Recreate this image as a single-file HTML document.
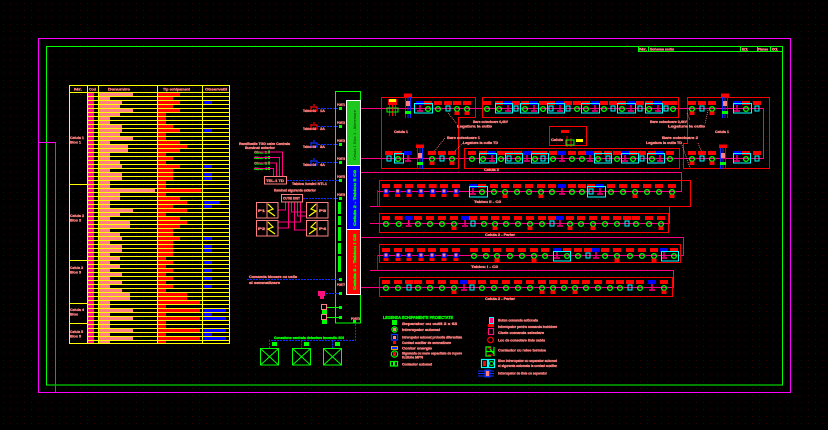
<!DOCTYPE html>
<html><head><meta charset="utf-8">
<style>
html,body{margin:0;padding:0;background:#000;}
svg{display:block}
.t{font-family:"Liberation Sans",sans-serif;font-weight:bold;fill:#ff8080;stroke:#ff8080;stroke-width:0.35px;}
.g{font-family:"Liberation Sans",sans-serif;font-weight:bold;fill:#00ff00;stroke:#00ff00;stroke-width:0.35px;}
.cy{fill:none;stroke:#00ffff;stroke-width:1}
.rr{fill:none;stroke:#ff0000;stroke-width:1}
.mg{fill:none;stroke:#ff0080;stroke-width:1}
.bd{fill:none;stroke:#1030ff;stroke-width:1;stroke-dasharray:2,1}
.pd{fill:none;stroke:#ff8080;stroke-width:0.8;stroke-dasharray:1,1}
</style></head><body>
<svg width="828" height="430" viewBox="0 0 828 430" xmlns="http://www.w3.org/2000/svg">
<defs>
<pattern id="dots" patternUnits="userSpaceOnUse" width="7" height="7"><rect x="3" y="3" width="1" height="1" fill="#3a0000"/></pattern>
<pattern id="yl" patternUnits="userSpaceOnUse" x="0" y="92" width="10" height="4"><rect x="0" y="0" width="10" height="1" fill="#ffff00"/></pattern>
<pattern id="pMag" patternUnits="userSpaceOnUse" x="0" y="93" width="4" height="4"><rect width="4" height="3" fill="#ff1080"/></pattern>
<pattern id="pPink" patternUnits="userSpaceOnUse" x="0" y="93" width="4" height="4"><rect width="4" height="3" fill="#ff8080"/></pattern>
<pattern id="pRed" patternUnits="userSpaceOnUse" x="0" y="93" width="4" height="4"><rect width="4" height="3" fill="#ff0000"/></pattern>
<g id="u1"><rect x="-4" y="0" width="8" height="4" fill="#f00"/><circle cx="0" cy="8" r="2.4" fill="none" stroke="#0f0" stroke-width="1.3"/></g>
<g id="u2"><rect x="-4" y="0" width="8" height="4" fill="#f00"/><circle cx="0" cy="8" r="2.4" fill="none" stroke="#0f0" stroke-width="1.3"/><rect x="-2.5" y="10.5" width="5" height="3.5" fill="#f00"/></g>
<g id="u3"><rect x="-4" y="0" width="8" height="4" fill="#f00"/><circle cx="0" cy="7.5" r="3" fill="#0000ff"/><rect x="-1.5" y="5.5" width="3" height="3" fill="#ff8080"/><rect x="-2.5" y="10" width="5" height="3" fill="#f00"/></g>
<g id="u4"><rect x="-4" y="0" width="8" height="4" fill="#0000ff"/><path d="M0,4V9M-3,10H3" stroke="#ff0080" stroke-width="1.4" fill="none"/></g>
<g id="u5"><rect x="-4" y="0" width="8" height="4" fill="#f00"/><rect x="-2" y="5" width="4" height="5" fill="none" stroke="#0ff" stroke-width="1"/></g>
</defs>
<rect width="828" height="430" fill="#000"/>
<rect width="828" height="430" fill="url(#dots)"/>

<!-- frames -->
<rect x="38.5" y="38.5" width="752" height="354" fill="none" stroke="#ff00ff" stroke-width="1"/>
<rect x="46.5" y="46.5" width="736" height="338.5" fill="none" stroke="#00ff00" stroke-width="1"/>
<path d="M38,142.5H55.5V392" fill="none" stroke="#ff00ff" stroke-width="1"/>

<!-- title block -->
<rect x="638.5" y="46.5" width="144" height="5" fill="none" stroke="#00ff00"/>
<path d="M648.5,46.5V51.5M740.5,46.5V51.5M757.5,46.5V51.5M770.5,46.5V51.5" stroke="#00ff00"/>
<text class="t" x="639" y="50.5" font-size="3.5" textLength="8" lengthAdjust="spacingAndGlyphs">Nr.</text>
<text class="t" x="650" y="50.5" font-size="3.5" textLength="14" lengthAdjust="spacingAndGlyphs">Schema</text>
<text class="t" x="665" y="50.5" font-size="3.5" textLength="9" lengthAdjust="spacingAndGlyphs">monofilara</text>
<text class="t" x="742" y="50.5" font-size="3.5" textLength="6" lengthAdjust="spacingAndGlyphs">E1</text>
<text class="t" x="758" y="50.5" font-size="3.5" textLength="10" lengthAdjust="spacingAndGlyphs">Plansa</text>
<text class="t" x="772" y="50.5" font-size="3.5" textLength="6" lengthAdjust="spacingAndGlyphs">01</text>

<!-- ================= TABLE ================= -->
<rect x="88" y="93" width="6" height="251" fill="url(#pMag)"/>
<rect x="99" y="93" width="11" height="251" fill="url(#pPink)"/>
<rect x="158" y="93" width="8" height="251" fill="url(#pRed)"/>
<g fill="#ff8080">
<rect x="110" y="93" width="23" height="3"/><rect x="110" y="101" width="12" height="3"/><rect x="110" y="105" width="10" height="3"/><rect x="110" y="109" width="23" height="3"/><rect x="110" y="113" width="10" height="3"/><rect x="110" y="125" width="12" height="3"/><rect x="110" y="129" width="12" height="3"/><rect x="110" y="133" width="10" height="3"/><rect x="110" y="137" width="23" height="3"/><rect x="110" y="145" width="18" height="3"/><rect x="110" y="149" width="18" height="3"/><rect x="110" y="161" width="10" height="3"/><rect x="110" y="165" width="12" height="3"/><rect x="110" y="173" width="12" height="3"/><rect x="110" y="177" width="12" height="3"/><rect x="110" y="189" width="45" height="3"/><rect x="110" y="193" width="10" height="3"/><rect x="110" y="197" width="10" height="3"/><rect x="110" y="209" width="23" height="3"/><rect x="110" y="213" width="10" height="3"/><rect x="110" y="221" width="20" height="3"/><rect x="110" y="225" width="20" height="3"/><rect x="110" y="233" width="10" height="3"/><rect x="110" y="237" width="12" height="3"/><rect x="110" y="245" width="12" height="3"/><rect x="110" y="249" width="12" height="3"/><rect x="110" y="257" width="10" height="3"/><rect x="110" y="265" width="10" height="3"/><rect x="110" y="273" width="12" height="3"/><rect x="110" y="281" width="12" height="3"/><rect x="110" y="289" width="12" height="3"/><rect x="110" y="293" width="20" height="3"/><rect x="110" y="297" width="20" height="3"/><rect x="110" y="309" width="23" height="3"/><rect x="110" y="317" width="23" height="3"/><rect x="110" y="329" width="23" height="3"/><rect x="110" y="337" width="23" height="3"/>
</g>
<g fill="#ff0000">
<rect x="166" y="93" width="14" height="3"/><rect x="166" y="97" width="7" height="3"/><rect x="166" y="101" width="14" height="3"/><rect x="166" y="105" width="7" height="3"/><rect x="166" y="109" width="14" height="3"/><rect x="166" y="125" width="7" height="3"/><rect x="166" y="129" width="14" height="3"/><rect x="166" y="141" width="14" height="3"/><rect x="166" y="145" width="21" height="3"/><rect x="166" y="149" width="14" height="3"/><rect x="166" y="157" width="7" height="3"/><rect x="166" y="165" width="14" height="3"/><rect x="166" y="169" width="7" height="3"/><rect x="166" y="173" width="7" height="3"/><rect x="166" y="177" width="7" height="3"/><rect x="166" y="189" width="35" height="3"/><rect x="166" y="197" width="14" height="3"/><rect x="166" y="201" width="21" height="3"/><rect x="166" y="205" width="7" height="3"/><rect x="166" y="209" width="21" height="3"/><rect x="166" y="217" width="14" height="3"/><rect x="166" y="221" width="21" height="3"/><rect x="166" y="225" width="14" height="3"/><rect x="166" y="229" width="7" height="3"/><rect x="166" y="233" width="7" height="3"/><rect x="166" y="237" width="14" height="3"/><rect x="166" y="241" width="7" height="3"/><rect x="166" y="245" width="7" height="3"/><rect x="166" y="249" width="7" height="3"/><rect x="166" y="253" width="7" height="3"/><rect x="166" y="261" width="7" height="3"/><rect x="166" y="269" width="7" height="3"/><rect x="166" y="277" width="7" height="3"/><rect x="166" y="285" width="7" height="3"/><rect x="166" y="293" width="21" height="3"/><rect x="166" y="297" width="21" height="3"/><rect x="166" y="301" width="34" height="3"/><rect x="166" y="309" width="34" height="3"/><rect x="166" y="317" width="34" height="3"/><rect x="166" y="329" width="34" height="3"/><rect x="166" y="337" width="34" height="3"/>
</g>
<g fill="#0000ff">
<rect x="203" y="101" width="9" height="3"/><rect x="203" y="129" width="9" height="3"/><rect x="203" y="165" width="9" height="3"/><rect x="203" y="173" width="9" height="3"/><rect x="203" y="177" width="9" height="3"/><rect x="203" y="201" width="16" height="3"/><rect x="203" y="205" width="9" height="3"/><rect x="203" y="237" width="9" height="3"/><rect x="203" y="245" width="9" height="3"/><rect x="203" y="249" width="9" height="3"/><rect x="203" y="261" width="9" height="3"/><rect x="203" y="269" width="9" height="3"/><rect x="203" y="277" width="9" height="3"/><rect x="203" y="285" width="9" height="3"/><rect x="203" y="309" width="23" height="3"/><rect x="203" y="313" width="9" height="3"/><rect x="203" y="317" width="23" height="3"/><rect x="203" y="329" width="23" height="3"/><rect x="203" y="333" width="9" height="3"/><rect x="203" y="337" width="23" height="3"/>
</g>
<rect x="87" y="92" width="142" height="252" fill="url(#yl)"/>
<g stroke="#ffff00" stroke-width="1" fill="none">
<rect x="69.5" y="85.5" width="160" height="258"/>
<path d="M69.5,92.5H229.5M87.5,85.5V343.5M98.5,85.5V343.5M157.5,85.5V343.5M202.5,85.5V343.5M69.5,184.5H87.5M69.5,260.5H87.5M69.5,303.5H87.5M69.5,323.5H87.5"/>
</g>
<text class="t" x="74" y="90.5" font-size="4" textLength="8" lengthAdjust="spacingAndGlyphs">Nr.</text>
<text class="t" x="89" y="90.5" font-size="4" textLength="7" lengthAdjust="spacingAndGlyphs">Cod</text>
<text class="t" x="108" y="90.5" font-size="4" textLength="22" lengthAdjust="spacingAndGlyphs">Denumire</text>
<text class="t" x="163" y="90.5" font-size="4" textLength="27" lengthAdjust="spacingAndGlyphs">Tip echipament</text>
<text class="t" x="205" y="90.5" font-size="4" textLength="22" lengthAdjust="spacingAndGlyphs">Observatii</text>
<text class="t" x="70" y="139" font-size="4" textLength="14" lengthAdjust="spacingAndGlyphs">Celula 1</text>
<text class="t" x="70" y="143.5" font-size="4" textLength="11" lengthAdjust="spacingAndGlyphs">Bloc 1</text>
<text class="t" x="70" y="217" font-size="4" textLength="14" lengthAdjust="spacingAndGlyphs">Celula 2</text>
<text class="t" x="70" y="221.5" font-size="4" textLength="11" lengthAdjust="spacingAndGlyphs">Bloc 2</text>
<text class="t" x="70" y="269" font-size="4" textLength="13" lengthAdjust="spacingAndGlyphs">Celula 3</text>
<text class="t" x="70" y="273.5" font-size="4" textLength="11" lengthAdjust="spacingAndGlyphs">Bloc 3</text>
<text class="t" x="70" y="311" font-size="4" textLength="14" lengthAdjust="spacingAndGlyphs">Celula 4</text>
<text class="t" x="70" y="315.5" font-size="4" textLength="8" lengthAdjust="spacingAndGlyphs">Bloc</text>
<text class="t" x="70" y="333" font-size="4" textLength="13" lengthAdjust="spacingAndGlyphs">Celula 5</text>
<text class="t" x="70" y="337.5" font-size="4" textLength="11" lengthAdjust="spacingAndGlyphs">Bloc 5</text>

<!-- ================= MIDDLE ================= -->
<rect x="335.5" y="91.5" width="25" height="231.5" fill="none" stroke="#00ff00"/>
<rect x="347" y="101" width="13" height="64.5" fill="#1ec81e"/>
<rect x="347" y="165.5" width="13" height="64" fill="#0000ff"/>
<rect x="347" y="229.5" width="13" height="64.5" fill="#ff0000"/>
<rect x="346.5" y="100.5" width="14" height="194" fill="none" stroke="#ffffff"/>
<path d="M346.5,165.5H360.5M346.5,229.5H360.5" stroke="#ffffff"/>
<text transform="translate(356,160) rotate(-90)" font-family="Liberation Sans,sans-serif" font-size="4" fill="#004000" textLength="50" lengthAdjust="spacingAndGlyphs">Celula 1 Bloc 1 - Alimentare</text>
<text class="g" transform="translate(356,226) rotate(-90)" font-size="4" textLength="56" lengthAdjust="spacingAndGlyphs">Celula 2 - Tablou  II   C0</text>
<text class="g" transform="translate(356,290) rotate(-90)" font-size="4" textLength="56" lengthAdjust="spacingAndGlyphs">Celula 3 - Tablou  I   C0</text>
<!-- left labels of column -->
<g class="t" font-size="3.5">
<text x="337" y="106" textLength="8" lengthAdjust="spacingAndGlyphs">PORT1</text>
<text x="337" y="124" textLength="8" lengthAdjust="spacingAndGlyphs">PORT2</text>
<text x="337" y="142" textLength="8" lengthAdjust="spacingAndGlyphs">PORT3</text>
<text x="337" y="160" textLength="8" lengthAdjust="spacingAndGlyphs">PORT4</text>
<text x="337" y="178" textLength="8" lengthAdjust="spacingAndGlyphs">PORT5</text>
<text x="337" y="196" textLength="8" lengthAdjust="spacingAndGlyphs">PORT6</text>
<text x="337" y="286" textLength="8" lengthAdjust="spacingAndGlyphs">PORT7</text>
<text x="351" y="320" textLength="9" lengthAdjust="spacingAndGlyphs">PORT8</text>
</g>
<g fill="#00ff00">
<rect x="339" y="107" width="3" height="3"/><rect x="339" y="125" width="3" height="3"/><rect x="339" y="143" width="3" height="3"/><rect x="339" y="161" width="3" height="3"/><rect x="339" y="179" width="3" height="3"/><rect x="339" y="197" width="3" height="3"/><rect x="339" y="278" width="3" height="3"/><rect x="339" y="292" width="3" height="3"/><rect x="339" y="306" width="3" height="3"/><rect x="339" y="316" width="3" height="3"/>
<rect x="338" y="202" width="3" height="12"/><rect x="338" y="216" width="3" height="9"/><rect x="338" y="227" width="3" height="14"/><rect x="338" y="243" width="3" height="11"/><rect x="338" y="256" width="3" height="16"/>
</g>
<!-- magenta lines to right -->
<g class="mg">
<path d="M361,108.5H763.5V158.5H361"/>
<path d="M361,172.5H681.5V191.5H377"/>
<path d="M370,206.5H669.5V223.5H370"/>
<path d="M361,237.5H683.5V255.5H377"/>
<path d="M370,270.5H673.5V287.5H361"/>
</g>
<path d="M377.5,190V206M377.5,255V270" stroke="#1030ff" fill="none"/>

<!-- breaker symbols left -->
<g class="bd">
<path d="M318,108.5H339M318,126.5H339M318,144.5H339M318,162.5H339M287,180.5H339M303,198.5H339M247,279.5H339M326,293.5H339"/>
<path d="M355.5,321V340.5H269.5V348M301.5,340.5V348M332.5,340.5V348"/>
</g>
<g fill="none" stroke-width="1.2">
<path d="M311,106V111H317V107H311M314,104V106" stroke="#ff0000"/>
<path d="M311,124V129H317V125H311M314,122V124" stroke="#ff0000"/>
<path d="M311,142V147H317V143H311M314,140V142" stroke="#1030ff"/>
<path d="M311,160V165H317V161H311M314,158V160" stroke="#1030ff"/>
</g>
<g class="t" font-size="3.5">
<text x="303" y="112" textLength="13" lengthAdjust="spacingAndGlyphs">Tablou G1</text><text x="320" y="112" textLength="5" lengthAdjust="spacingAndGlyphs">1A</text>
<text x="303" y="130" textLength="13" lengthAdjust="spacingAndGlyphs">Tablou G2</text><text x="320" y="130" textLength="5" lengthAdjust="spacingAndGlyphs">2A</text>
<text x="303" y="148" textLength="13" lengthAdjust="spacingAndGlyphs">Tablou G3</text><text x="320" y="148" textLength="5" lengthAdjust="spacingAndGlyphs">3A</text>
<text x="303" y="166" textLength="13" lengthAdjust="spacingAndGlyphs">Tablou G4</text><text x="320" y="166" textLength="5" lengthAdjust="spacingAndGlyphs">4A</text>
<text x="239" y="145" textLength="51" lengthAdjust="spacingAndGlyphs">Ramificatie TGD catre Centrala</text>
<text x="245" y="149" textLength="30" lengthAdjust="spacingAndGlyphs">iluminat exterior</text>
<text x="292" y="185" textLength="35" lengthAdjust="spacingAndGlyphs">Tablou lumini NTL1</text>
<text x="274" y="191.5" textLength="42" lengthAdjust="spacingAndGlyphs">Iluminat siguranta exterior</text>
<text x="249" y="278" textLength="48" lengthAdjust="spacingAndGlyphs">Comanda blocare cu usile</text>
<text x="249" y="284" textLength="31" lengthAdjust="spacingAndGlyphs">si semnalizare</text>
</g>
<g class="g" font-size="3.5">
<text x="254" y="153.5" textLength="13" lengthAdjust="spacingAndGlyphs">Circ. 1</text>
<text x="254" y="159" textLength="13" lengthAdjust="spacingAndGlyphs">Circ. 2</text>
<text x="254" y="164.5" textLength="13" lengthAdjust="spacingAndGlyphs">Circ. 3</text>
<text x="254" y="170" textLength="13" lengthAdjust="spacingAndGlyphs">Circ. 4</text>
</g>
<g fill="#00ff00"><rect x="268" y="150.5" width="2" height="3"/><rect x="268" y="156" width="2" height="3"/><rect x="268" y="161.5" width="2" height="3"/><rect x="268" y="167" width="2" height="3"/></g>
<g class="mg">
<path d="M254,152H282.5V176M254,157.5H279.5V176M254,163H276.5V176M254,168.5H273.5V176"/>
<path d="M285.5,202V210H278M288.5,202V228H278M291.5,202V212H306M294.5,202V230H306M297.5,202V216H306M300.5,202V222H278"/>
</g>
<rect x="264.5" y="176.5" width="22" height="7.5" fill="none" stroke="#ff8080"/>
<text class="t" x="266" y="182" font-size="3.5" textLength="18" lengthAdjust="spacingAndGlyphs">TEL-1 TD</text>
<rect x="281.5" y="194.5" width="21" height="7.5" fill="none" stroke="#ff8080"/>
<text class="t" x="283" y="199.5" font-size="3.5" textLength="17" lengthAdjust="spacingAndGlyphs">CUTIE DIST</text>
<!-- 4 boxes -->
<g fill="none" stroke="#ff8080">
<rect x="256.5" y="202.5" width="21.5" height="15.5"/><path d="M267,202.5V218"/>
<rect x="306.5" y="202.5" width="21.5" height="15.5"/><path d="M317,202.5V218"/>
<rect x="256.5" y="220.5" width="21.5" height="15.5"/><path d="M267,220.5V236"/>
<rect x="306.5" y="220.5" width="21.5" height="15.5"/><path d="M317,220.5V236"/>
</g>
<g fill="none" stroke="#ffff00" stroke-width="1.2">
<path d="M268,204L273,209L268,211L275,216"/><path d="M268,222L273,227L268,229L275,234"/>
<path d="M316,204L311,209L316,211L309,216"/><path d="M316,222L311,227L316,229L309,234"/>
</g>
<g class="t" font-size="3.5">
<text x="258" y="212" textLength="7" lengthAdjust="spacingAndGlyphs">P1</text>
<text x="258" y="230" textLength="7" lengthAdjust="spacingAndGlyphs">P2</text>
<text x="319" y="212" textLength="7" lengthAdjust="spacingAndGlyphs">P3</text>
<text x="319" y="230" textLength="7" lengthAdjust="spacingAndGlyphs">P4</text>
</g>
<!-- bottom middle -->
<rect x="318" y="291" width="7" height="5" fill="#ff1080"/><rect x="320" y="296" width="4" height="3" fill="#ff1080"/>
<rect x="321.5" y="304.5" width="5" height="5" fill="none" stroke="#ff8080"/><rect x="322" y="310" width="5" height="4" fill="#00ff00"/>
<rect x="321.5" y="314.5" width="5" height="5" fill="none" stroke="#ff8080"/><rect x="322" y="320" width="5" height="4" fill="#00ff00"/>
<path d="M327,307.5H340M327,317.5H340" stroke="#00ff00"/>
<rect x="353" y="320" width="3" height="3" fill="#00ff00"/>
<text class="g" x="274" y="339" font-size="3.5" textLength="70" lengthAdjust="spacingAndGlyphs">Conexiune centrala detectare incendiu SDI</text>
<g fill="none" stroke="#00ff00">
<rect x="260.5" y="348.5" width="18" height="16.5"/><path d="M260.5,348.5L278.5,365M278.5,348.5L260.5,365"/>
<rect x="292.5" y="348.5" width="18" height="16.5"/><path d="M292.5,348.5L310.5,365M310.5,348.5L292.5,365"/>
<rect x="323.5" y="348.5" width="18" height="16.5"/><path d="M323.5,348.5L341.5,365M341.5,348.5L323.5,365"/>
</g>
<g fill="#00ff00"><rect x="272" y="342" width="5" height="4"/><rect x="304" y="342" width="5" height="4"/><rect x="335" y="342" width="5" height="4"/></g>

<!-- ================= RIGHT: RED FRAMES ================= -->
<g class="rr">
<path d="M381.5,97.5H475.5V117.5H458.5V168.5H381.5Z"/>
<rect x="482.5" y="97.5" width="196" height="20"/>
<rect x="464.5" y="148.5" width="215" height="20"/>
<path d="M769.5,97.5H687.5V143.5H683.5V168.5H769.5Z"/>
<rect x="549.5" y="126.5" width="37" height="19"/>
<rect x="379.5" y="180.5" width="311" height="26"/>
<rect x="379.5" y="213.5" width="289" height="19"/>
<rect x="379.5" y="244.5" width="301" height="18"/>
<rect x="379.5" y="277.5" width="293" height="19"/>
</g>
<!-- annotations -->
<g class="pd">
<path d="M448,113L457,124M445,138L433,153M463,143L453,153M708,110L705,124M687,113L690,120M698,143L705,160M682,145L690,168"/>
</g>
<g class="t" font-size="3.6">
<text x="473" y="123" textLength="35" lengthAdjust="spacingAndGlyphs">Bare colectoare 0,4kV</text>
<text x="457" y="127.5" textLength="35" lengthAdjust="spacingAndGlyphs">Legatura la cutie</text>
<text x="447" y="139" textLength="33" lengthAdjust="spacingAndGlyphs">Bare colectoare 1</text>
<text x="463" y="144" textLength="35" lengthAdjust="spacingAndGlyphs">Legatura la cutia TD</text>
<text x="650" y="123" textLength="37" lengthAdjust="spacingAndGlyphs">Bare colectoare 0,4kV</text>
<text x="668" y="127.5" textLength="37" lengthAdjust="spacingAndGlyphs">Legatura la cutie</text>
<text x="662" y="139" textLength="36" lengthAdjust="spacingAndGlyphs">Bare colectoare 2</text>
<text x="646" y="144" textLength="36" lengthAdjust="spacingAndGlyphs">Legatura la cutia TD</text>
<text x="394" y="133" textLength="14" lengthAdjust="spacingAndGlyphs">Celula 1</text>
<text x="715" y="133" textLength="14" lengthAdjust="spacingAndGlyphs">Celula 1</text>
<text x="484" y="171" textLength="15" lengthAdjust="spacingAndGlyphs">Celula 2</text>
<text x="551" y="141" textLength="12" lengthAdjust="spacingAndGlyphs">Celula</text>
<text x="474" y="203" textLength="27" lengthAdjust="spacingAndGlyphs">Tablou II - C0</text>
<text x="485" y="236" textLength="30" lengthAdjust="spacingAndGlyphs">Celula 2 - Parter</text>
<text x="471" y="268" textLength="27" lengthAdjust="spacingAndGlyphs">Tablou I - C0</text>
<text x="485" y="300" textLength="30" lengthAdjust="spacingAndGlyphs">Celula 2 - Parter</text>
</g>
<rect x="561" y="130" width="8" height="3" fill="#f00"/>
<path d="M567,136V147M571,138V147" stroke="#f00"/>
<rect x="566" y="140" width="8" height="5" fill="none" stroke="#0f0"/>
<rect x="576" y="139" width="7" height="3" fill="#ff0"/>

<!-- special symbols row A/B -->
<rect x="388" y="99" width="9" height="6" fill="#f00"/><rect x="389" y="99" width="7" height="3" fill="#ff0"/>
<path d="M389.5,105V116M392.5,105V116M395.5,105V116" stroke="#f00"/>
<rect x="387" y="108" width="11" height="4" fill="none" stroke="#0f0"/>
<rect x="404" y="93.5" width="8" height="3.5" fill="#f00"/>
<path d="M405.5,97V118M408,97V118M410.5,97V118" stroke="#1030ff"/>
<rect x="406" y="101" width="4" height="5" fill="#ff8080"/><rect x="405" y="111" width="6" height="3" fill="#0f0"/>
<rect x="416" y="144.5" width="8" height="3.5" fill="#f00"/>
<path d="M417.5,148V169M420,148V169M422.5,148V169" stroke="#1030ff"/>
<rect x="418" y="153" width="4" height="5" fill="#ff8080"/><rect x="417" y="162" width="6" height="3" fill="#0f0"/>
<rect x="721" y="93.5" width="8" height="3.5" fill="#f00"/>
<path d="M722.5,97V118M725,97V118M727.5,97V118" stroke="#1030ff"/>
<rect x="723" y="101" width="4" height="5" fill="#ff8080"/><rect x="722" y="111" width="6" height="3" fill="#0f0"/>
<rect x="719" y="144.5" width="8" height="3.5" fill="#f00"/>
<path d="M720.5,148V169M723,148V169M725.5,148V169" stroke="#1030ff"/>
<rect x="721" y="153" width="4" height="5" fill="#ff8080"/><rect x="720" y="162" width="6" height="3" fill="#0f0"/>

<!-- row A units (y=101) -->
<use href="#u4" x="420" y="101"/><use href="#u1" x="428" y="101"/><use href="#u1" x="438" y="101"/><use href="#u5" x="448" y="101"/><use href="#u2" x="457" y="101"/><use href="#u2" x="467" y="101"/>
<use href="#u1" x="487" y="101"/><use href="#u1" x="499" y="101"/><use href="#u4" x="508" y="101"/><use href="#u5" x="516" y="101"/><use href="#u1" x="525" y="101"/><use href="#u4" x="534" y="101"/><use href="#u1" x="543" y="101"/><use href="#u5" x="551" y="101"/><use href="#u4" x="560" y="101"/><use href="#u5" x="568" y="101"/><use href="#u1" x="577" y="101"/><use href="#u1" x="586" y="101"/><use href="#u4" x="595" y="101"/><use href="#u1" x="604" y="101"/><use href="#u5" x="613" y="101"/><use href="#u1" x="622" y="101"/><use href="#u4" x="631" y="101"/><use href="#u5" x="640" y="101"/><use href="#u1" x="649" y="101"/><use href="#u4" x="658" y="101"/><use href="#u5" x="666" y="101"/><use href="#u1" x="673" y="101"/>
<use href="#u2" x="692" y="101"/><use href="#u5" x="702" y="101"/><use href="#u2" x="712" y="101"/><use href="#u4" x="737" y="101"/><use href="#u1" x="746" y="101"/><use href="#u5" x="757" y="101"/>
<g class="cy"><rect x="414.5" y="103.5" width="18" height="9.5"/><rect x="495.5" y="103.5" width="17" height="9.5"/><rect x="520.5" y="103.5" width="18" height="9.5"/><rect x="547.5" y="103.5" width="17" height="9.5"/><rect x="581.5" y="103.5" width="18" height="9.5"/><rect x="617.5" y="103.5" width="18" height="9.5"/><rect x="645.5" y="103.5" width="17" height="9.5"/><rect x="733.5" y="103.5" width="18" height="9.5"/></g>

<!-- row B units (y=151) -->
<use href="#u5" x="389" y="151"/><use href="#u1" x="398" y="151"/><use href="#u4" x="408" y="151"/><use href="#u2" x="432" y="151"/><use href="#u5" x="442" y="151"/><use href="#u2" x="452" y="151"/>
<use href="#u1" x="472" y="151"/><use href="#u1" x="483" y="151"/><use href="#u4" x="492" y="151"/><use href="#u1" x="501" y="151"/><use href="#u5" x="509" y="151"/><use href="#u1" x="518" y="151"/><use href="#u4" x="527" y="151"/><use href="#u1" x="535" y="151"/><use href="#u5" x="543" y="151"/><use href="#u1" x="553" y="151"/><use href="#u4" x="562" y="151"/><use href="#u1" x="572" y="151"/><use href="#u1" x="582" y="151"/><use href="#u4" x="590" y="151"/><use href="#u1" x="598" y="151"/><use href="#u5" x="608" y="151"/><use href="#u1" x="617" y="151"/><use href="#u4" x="625" y="151"/><use href="#u1" x="633" y="151"/><use href="#u5" x="642" y="151"/><use href="#u1" x="652" y="151"/><use href="#u4" x="660" y="151"/><use href="#u1" x="670" y="151"/>
<use href="#u2" x="692" y="151"/><use href="#u5" x="702" y="151"/><use href="#u2" x="712" y="151"/><use href="#u4" x="737" y="151"/><use href="#u1" x="746" y="151"/><use href="#u5" x="757" y="151"/>
<g class="cy"><rect x="394.5" y="153.5" width="9" height="9.5"/><rect x="479.5" y="153.5" width="17" height="9.5"/><rect x="505.5" y="153.5" width="17" height="9.5"/><rect x="531.5" y="153.5" width="17" height="9.5"/><rect x="594.5" y="153.5" width="17" height="9.5"/><rect x="621.5" y="153.5" width="17" height="9.5"/><rect x="647.5" y="153.5" width="17" height="9.5"/><rect x="733.5" y="153.5" width="17" height="9.5"/></g>

<!-- row C (y=184) -->
<use href="#u3" x="386" y="184"/><use href="#u3" x="397.7" y="184"/><use href="#u3" x="409" y="184"/><use href="#u3" x="421" y="184"/><use href="#u3" x="432.7" y="184"/><use href="#u3" x="444" y="184"/><use href="#u3" x="456" y="184"/>
<use href="#u4" x="473" y="184"/><use href="#u1" x="482" y="184"/><use href="#u1" x="494" y="184"/><use href="#u2" x="505" y="184"/><use href="#u1" x="517" y="184"/><use href="#u1" x="529" y="184"/><use href="#u2" x="541" y="184"/><use href="#u1" x="552" y="184"/><use href="#u4" x="562" y="184"/><use href="#u1" x="572" y="184"/><use href="#u1" x="582" y="184"/><use href="#u5" x="591" y="184"/><use href="#u4" x="600" y="184"/><use href="#u1" x="611" y="184"/><use href="#u1" x="623" y="184"/><use href="#u2" x="635" y="184"/><use href="#u1" x="647" y="184"/><use href="#u1" x="659" y="184"/><use href="#u2" x="672" y="184"/>
<g class="cy"><rect x="469.5" y="186.5" width="18" height="10.5"/><rect x="587.5" y="186.5" width="18" height="10.5"/></g>

<!-- row D (y=216) -->
<use href="#u1" x="386" y="216"/><use href="#u1" x="398.7" y="216"/><use href="#u4" x="408.7" y="216"/><use href="#u1" x="418" y="216"/><use href="#u1" x="430" y="216"/><use href="#u1" x="442" y="216"/><use href="#u2" x="454" y="216"/><use href="#u4" x="465" y="216"/><use href="#u5" x="473" y="216"/><use href="#u1" x="484" y="216"/><use href="#u2" x="495" y="216"/><use href="#u1" x="506" y="216"/><use href="#u1" x="518" y="216"/><use href="#u2" x="530" y="216"/><use href="#u1" x="542" y="216"/><use href="#u5" x="552" y="216"/><use href="#u4" x="560" y="216"/><use href="#u2" x="570" y="216"/><use href="#u1" x="581" y="216"/><use href="#u2" x="593" y="216"/><use href="#u1" x="605" y="216"/><use href="#u1" x="617" y="216"/><use href="#u5" x="627" y="216"/><use href="#u1" x="636" y="216"/><use href="#u1" x="649" y="216"/><use href="#u2" x="661" y="216"/>

<!-- row E (y=248) -->
<use href="#u3" x="386" y="248"/><use href="#u3" x="398" y="248"/><use href="#u3" x="409" y="248"/><use href="#u3" x="421" y="248"/><use href="#u3" x="432" y="248"/><use href="#u3" x="444" y="248"/><use href="#u3" x="456" y="248"/>
<use href="#u1" x="474" y="248"/><use href="#u1" x="486" y="248"/><use href="#u2" x="497" y="248"/><use href="#u1" x="510" y="248"/><use href="#u1" x="522" y="248"/><use href="#u2" x="534" y="248"/><use href="#u1" x="545" y="248"/><use href="#u4" x="557" y="248"/><use href="#u1" x="567" y="248"/><use href="#u1" x="578" y="248"/><use href="#u5" x="588" y="248"/><use href="#u4" x="596" y="248"/><use href="#u1" x="605" y="248"/><use href="#u2" x="617" y="248"/><use href="#u1" x="630" y="248"/><use href="#u1" x="642" y="248"/><use href="#u2" x="654" y="248"/><use href="#u4" x="664" y="248"/><use href="#u1" x="674" y="248"/>
<g class="cy"><rect x="553.5" y="251.5" width="17" height="9.5"/><rect x="661.5" y="251.5" width="17" height="9.5"/></g>

<!-- row F (y=280) -->
<use href="#u1" x="386" y="280"/><use href="#u1" x="398" y="280"/><use href="#u5" x="409" y="280"/><use href="#u1" x="418" y="280"/><use href="#u1" x="430" y="280"/><use href="#u1" x="442" y="280"/><use href="#u2" x="454" y="280"/><use href="#u4" x="464" y="280"/><use href="#u5" x="472" y="280"/><use href="#u1" x="482" y="280"/><use href="#u1" x="494" y="280"/><use href="#u1" x="506" y="280"/><use href="#u1" x="518" y="280"/><use href="#u1" x="530" y="280"/><use href="#u2" x="542" y="280"/><use href="#u2" x="553" y="280"/><use href="#u1" x="564" y="280"/><use href="#u2" x="575" y="280"/><use href="#u1" x="586" y="280"/><use href="#u1" x="598" y="280"/><use href="#u1" x="610" y="280"/><use href="#u1" x="620" y="280"/><use href="#u5" x="630" y="280"/><use href="#u1" x="640" y="280"/><use href="#u4" x="652" y="280"/><use href="#u2" x="664" y="280"/>

<!-- ================= LEGEND ================= -->
<text class="g" x="383" y="319" font-size="4.2" textLength="70" lengthAdjust="spacingAndGlyphs">LEGENDA ECHIPAMENTE PROIECTATE</text>
<rect x="392" y="320" width="5" height="5" fill="#00ff00"/>
<circle cx="394.5" cy="329.5" r="2.6" fill="none" stroke="#00ff00" stroke-width="1.2"/><rect x="393" y="328" width="3" height="3" fill="#ff8080"/>
<rect x="391.5" y="334.5" width="6" height="5.5" fill="none" stroke="#1030ff" stroke-width="1.3"/><rect x="393" y="336" width="3" height="3" fill="#ff8080"/>
<rect x="393" y="341" width="3" height="3" fill="#ff0000"/>
<rect x="391.5" y="346.5" width="6" height="3" fill="#1030ff" stroke="#e0a000"/>
<circle cx="394.5" cy="354" r="3.2" fill="none" stroke="#00ff00" stroke-width="1.2"/><rect x="393" y="352" width="3" height="4" fill="#ff0000"/>
<rect x="390.5" y="361.5" width="7" height="4.5" fill="none" stroke="#00ff00" stroke-width="1.2"/><rect x="393" y="362" width="2" height="4" fill="#00ff00"/>
<g class="t" font-size="3.6">
<text x="402" y="325" textLength="55" lengthAdjust="spacingAndGlyphs">Separator cu cutit 3 x 63</text>
<text x="402" y="331" textLength="38" lengthAdjust="spacingAndGlyphs">Intrerupator automat</text>
<text x="402" y="338.5" textLength="60" lengthAdjust="spacingAndGlyphs">Intrerupator automat protectie diferentiala</text>
<text x="402" y="344" textLength="49" lengthAdjust="spacingAndGlyphs">Contact auxiliar de semnalizare</text>
<text x="402" y="349.5" textLength="30" lengthAdjust="spacingAndGlyphs">Contor energie</text>
<text x="402" y="354.5" textLength="60" lengthAdjust="spacingAndGlyphs">Siguranta cu mare capacitate de rupere</text>
<text x="402" y="358.5" textLength="21" lengthAdjust="spacingAndGlyphs">fuzibila MPR</text>
<text x="402" y="365.5" textLength="30" lengthAdjust="spacingAndGlyphs">Contactor automat</text>
</g>
<rect x="489.5" y="317.5" width="4" height="6" fill="#ff1080" stroke="#00ffff"/>
<rect x="488" y="324" width="6" height="3" fill="#ff0000"/><rect x="488.5" y="328.5" width="5" height="6" fill="none" stroke="#ff1080" stroke-width="1.2"/>
<circle cx="490.5" cy="340" r="2.8" fill="none" stroke="#ff0000" stroke-width="1.2"/>
<path d="M491,347H486V356H491M486,351.5H494M494,347V356M490,349L494,354" fill="none" stroke="#00ff00" stroke-width="1.2"/><path d="M488,348H492M488,355H493" stroke="#ff0000"/>
<rect x="481.5" y="359.5" width="6" height="8" fill="none" stroke="#00ffff" stroke-width="1.2"/><rect x="488.5" y="359.5" width="6" height="8" fill="none" stroke="#00ffff" stroke-width="1.2"/>
<rect x="483" y="361" width="3" height="5" fill="#ff0000"/><circle cx="491.5" cy="363.5" r="2" fill="none" stroke="#00ff00"/>
<path d="M478,371H494M478,373.5H494M478,376H494" stroke="#1030ff"/><rect x="484.5" y="369.5" width="6" height="8" fill="#1030ff"/><rect x="486" y="371" width="3" height="5" fill="#ff8080"/>
<g class="t" font-size="3.6">
<text x="498" y="321.5" textLength="40" lengthAdjust="spacingAndGlyphs">Buton comanda actionata</text>
<text x="498" y="328" textLength="59" lengthAdjust="spacingAndGlyphs">Intrerupator pentru comanda inchidere</text>
<text x="498" y="334" textLength="46" lengthAdjust="spacingAndGlyphs">Cheie comanda selectare</text>
<text x="498" y="341.5" textLength="47" lengthAdjust="spacingAndGlyphs">Loc de conectare linie cablu</text>
<text x="498" y="351.5" textLength="48" lengthAdjust="spacingAndGlyphs">Contactor cu relee termice</text>
<text x="498" y="362" textLength="59" lengthAdjust="spacingAndGlyphs">Bloc intrerupator cu separator automat</text>
<text x="498" y="367" textLength="59" lengthAdjust="spacingAndGlyphs">si siguranta automata la contact auxiliar</text>
<text x="498" y="374.5" textLength="49" lengthAdjust="spacingAndGlyphs">Intrerupator de linie cu separator</text>
</g>
</svg>
</body></html>
